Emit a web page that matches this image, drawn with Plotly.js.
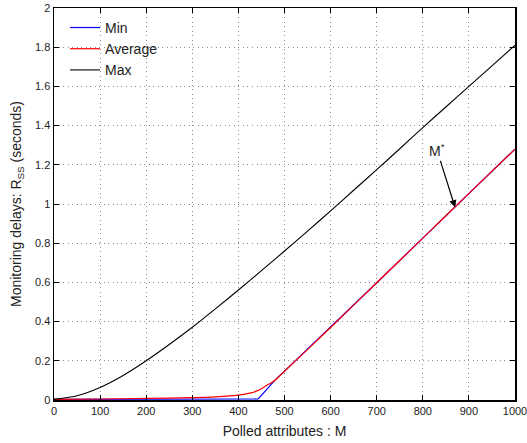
<!DOCTYPE html>
<html>
<head>
<meta charset="utf-8">
<script src="https://cdn.plot.ly/plotly-3.0.1.min.js"></script>
<style>html,body{margin:0;padding:0;background:#fff;}#chart{width:527px;height:443px;}</style>
</head>
<body>
<div id="chart"></div>
<script>
// Polled attributes M and monitoring delays (seconds)
const minX = [0, 100, 200, 300, 400, 443, 479, 500, 600, 700, 800, 900, 1000];
const minY = [0.003, 0.003, 0.003, 0.004, 0.004, 0.005, 0.1, 0.147, 0.37, 0.598, 0.826, 1.054, 1.28];

const avgX = [0, 100, 200, 300, 350, 400, 425, 443, 461, 479, 500, 600, 700, 800, 900, 1000];
const avgY = [0.003, 0.005, 0.008, 0.012, 0.016, 0.025, 0.035, 0.049, 0.074, 0.1, 0.147, 0.37, 0.598, 0.826, 1.054, 1.28];

const maxX = [0, 50, 100, 150, 200, 250, 300, 350, 400, 450, 500, 550, 600, 650, 700, 750, 800, 850, 900, 950, 1000];
const maxY = [0.003, 0.022, 0.064, 0.125, 0.2, 0.283, 0.371, 0.465, 0.561, 0.66, 0.76, 0.862, 0.965, 1.07, 1.175, 1.282, 1.39, 1.495, 1.6, 1.705, 1.81];

const seriesNames = ['Min', 'Average', 'Max'];
const mStar = {x: 870, y: 0.983, label: 'M<sup>*</sup>'};

const xTicks = [0, 100, 200, 300, 400, 500, 600, 700, 800, 900, 1000];
const yTicks = [0, 0.2, 0.4, 0.6, 0.8, 1, 1.2, 1.4, 1.6, 1.8, 2];

const font = 'Liberation Sans, Arial, Helvetica, sans-serif';

const traces = [
  {x: minX, y: minY, name: seriesNames[0], mode: 'lines', line: {color: '#0000ff', width: 1.2}},
  {x: avgX, y: avgY, name: seriesNames[1], mode: 'lines', line: {color: '#ff0000', width: 1.2, shape: 'spline', smoothing: 0.6}},
  {x: maxX, y: maxY, name: seriesNames[2], mode: 'lines', line: {color: '#000000', width: 1.1, shape: 'spline', smoothing: 0.6}}
];

const axisCommon = {
  showline: true, linecolor: '#000', linewidth: 1.5, mirror: 'ticks',
  ticks: 'inside', ticklen: 5, tickcolor: '#000', tickwidth: 1,
  showgrid: true, gridcolor: '#8c8c8c', gridwidth: 1, griddash: '1px,3.5px',
  zeroline: false, ticklabeloverflow: 'allow',
  tickfont: {family: font, size: 11, color: '#222'}
};

const layout = {
  width: 527, height: 443,
  margin: {l: 54, r: 12, t: 8, b: 43},
  paper_bgcolor: '#fff', plot_bgcolor: '#fff',
  font: {family: font, color: '#222'},
  showlegend: true,
  legend: {x: 0.024, y: 0.99, xanchor: 'left', yanchor: 'top', bgcolor: 'rgba(255,255,255,0)', borderwidth: 0,
           font: {family: font, size: 14, color: '#222'}, tracegroupgap: 0},
  xaxis: Object.assign({}, axisCommon, {range: [0, 1000], tickvals: xTicks, ticktext: xTicks.map(String),
    title: {text: 'Polled attributes : M', font: {family: font, size: 14, color: '#222'}, standoff: 10}}),
  yaxis: Object.assign({}, axisCommon, {range: [0, 2], tickvals: yTicks, ticktext: yTicks.map(String),
    title: {text: 'Monitoring delays: R<sub>SS</sub> (seconds)', font: {family: font, size: 14, color: '#222'}, standoff: 10}}),
  annotations: [{
    x: mStar.x, y: mStar.y, xref: 'x', yref: 'y', text: mStar.label,
    showarrow: true, arrowhead: 2, arrowsize: 1.2, arrowwidth: 1.2, arrowcolor: '#000',
    ax: -18, ay: -57, font: {family: font, size: 14, color: '#222'}
  }]
};

Plotly.newPlot('chart', traces, layout, {displayModeBar: false, staticPlot: true});
</script>
</body>
</html>
